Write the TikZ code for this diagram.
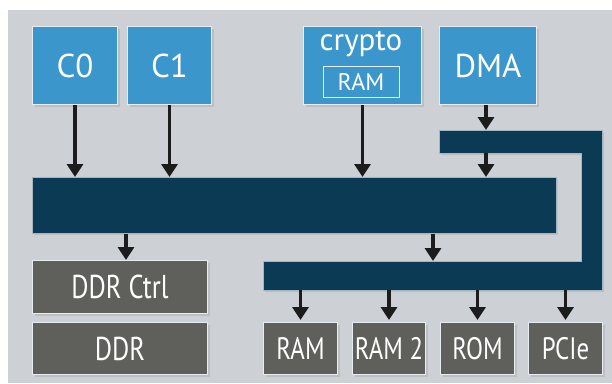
\documentclass[tikz,border=0pt]{standalone}
\usepackage{fontspec}
\setmainfont{PT Sans}
\newfontfamily\condfont[FakeStretch=0.8]{PT Sans}
\usetikzlibrary{arrows.meta,shadows}
\definecolor{bgpanel}{HTML}{CDD0D4}
\definecolor{cpublue}{HTML}{3B97CB}
\definecolor{busnavy}{HTML}{0B3A55}
\definecolor{memgray}{HTML}{5F605C}
\definecolor{edgelight}{HTML}{E6ECEF}
\definecolor{arrowdark}{HTML}{1C1C1C}
\tikzset{
  x=1pt, y=-1pt,
  shade/.style={drop shadow={opacity=0.22, shadow xshift=2pt, shadow yshift=-2pt}},
  bluebox/.style={shade, draw=edgelight, line width=1pt, fill=cpublue, text=white, inner sep=0pt, anchor=north west},
  graybox/.style={shade, draw=edgelight, line width=1pt, fill=memgray, text=white, inner sep=0pt, anchor=north west},
  busfill/.style={draw=edgelight!70!busnavy, line width=0.8pt, fill=busnavy},
  link/.style={draw=arrowdark, line width=3.8pt, -{Triangle[width=16pt,length=13pt]}},
}
\begin{document}
\begin{tikzpicture}
\useasboundingbox (0,0) rectangle (612,383);
\fill[white] (0,0) rectangle (612,383);
\fill[bgpanel] (8,10) rectangle (612,383);

% top boxes
\node[bluebox, minimum width=85pt, minimum height=78pt, font=\fontsize{33}{34}\selectfont] (c0) at (32,26) {C0};
\node[bluebox, minimum width=84pt, minimum height=78pt, font=\fontsize{33}{34}\selectfont] (c1) at (127,26) {C1};
\node[bluebox, minimum width=118pt, minimum height=78pt] (crypto) at (303,26) {};
\node[font=\fontsize{31}{32}\selectfont, text=white, inner sep=0pt] (cryptotxt) at (361,44) {crypto};
\node[draw=edgelight, line width=1pt, minimum width=76pt, minimum height=31pt, inner sep=0pt, text=white, font=\fontsize{24}{25}\selectfont] (cryptoram) at (361,81.5) {RAM};
\node[bluebox, minimum width=97pt, minimum height=78pt, font=\fontsize{33}{34}\selectfont] (dma) at (439,26) {DMA};

% buses
\node[shade, busfill, minimum width=524pt, minimum height=56pt, inner sep=0pt, anchor=north west] (bus) at (32,177) {};
\path[shade, busfill] (439,130) -- (602,130) -- (602,290) -- (263,290) -- (263,261) -- (581,261) -- (581,153) -- (439,153) -- cycle;
\node[minimum width=163pt, minimum height=23pt, inner sep=0pt, anchor=north west] (ltop) at (439,130) {};
\node[minimum width=339pt, minimum height=29pt, inner sep=0pt, anchor=north west] (lbot) at (263,261) {};

% memory boxes
\node[graybox, minimum width=175pt, minimum height=53pt, font=\condfont\fontsize{33}{34}\selectfont] (ddrctrl) at (32,260) {DDR Ctrl};
\node[graybox, minimum width=175pt, minimum height=52pt, font=\condfont\fontsize{33}{34}\selectfont] (ddr) at (32,322) {DDR};
\node[graybox, minimum width=74pt, minimum height=52pt, font=\condfont\fontsize{31}{32}\selectfont] (ram) at (263,322) {RAM};
\node[graybox, minimum width=73pt, minimum height=52pt, font=\condfont\fontsize{31}{32}\selectfont] (ram2) at (352,322) {RAM 2};
\node[graybox, minimum width=74pt, minimum height=52pt, font=\condfont\fontsize{31}{32}\selectfont] (rom) at (440,322) {ROM};
\node[graybox, minimum width=74pt, minimum height=52pt, font=\condfont\fontsize{31}{32}\selectfont] (pcie) at (528,322) {PCIe};

% named x positions
\coordinate (xdma) at (486,0);
\coordinate (xddr) at (126,0);
\coordinate (xdown) at (433,0);

% arrows
\draw[link] (c0.south) -- (c0.south |- bus.north);
\draw[link] (c1.south) -- (c1.south |- bus.north);
\draw[link] (crypto.south) -- (crypto.south |- bus.north);
\draw[link] (xdma |- dma.south) -- (xdma |- ltop.north);
\draw[link] (xdma |- ltop.south) -- (xdma |- bus.north);
\draw[link] (xddr |- bus.south) -- (xddr |- ddrctrl.north);
\draw[link] (xdown |- bus.south) -- (xdown |- lbot.north);
\draw[link] (ram.north |- lbot.south) -- ([yshift=2pt]ram.north);
\draw[link] (ram2.north |- lbot.south) -- ([yshift=2pt]ram2.north);
\draw[link] (rom.north |- lbot.south) -- ([yshift=2pt]rom.north);
\draw[link] (pcie.north |- lbot.south) -- ([yshift=2pt]pcie.north);
\end{tikzpicture}
\end{document}
